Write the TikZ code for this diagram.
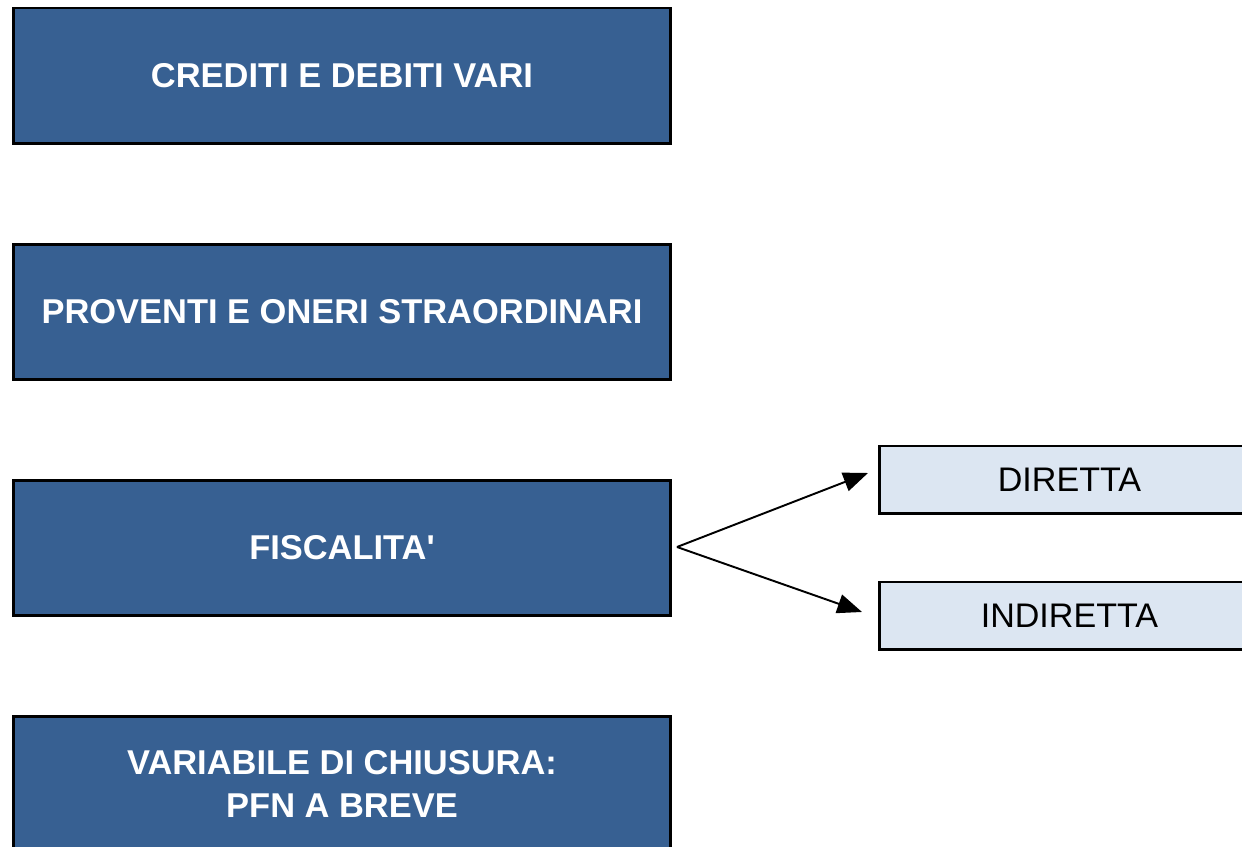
\documentclass[tikz,border=0pt]{standalone}
\usepackage{fontspec}
\setmainfont{Liberation Sans}
\usetikzlibrary{arrows.meta}
\definecolor{darkBlue}{HTML}{376092}
\definecolor{lightBlue}{HTML}{DCE6F2}
\begin{document}
\begin{tikzpicture}[x=0.02cm, y=-0.02cm,
	mainBox/.style={rectangle, fill=darkBlue, draw=black, line width=1.7pt, minimum width=13.16cm, minimum height=2.72cm, text=white, font=\fontsize{19.6}{24}\selectfont\bfseries, align=center},
	subBox/.style={rectangle, fill=lightBlue, draw=black, line width=1.7pt, minimum width=7.6cm, minimum height=1.36cm, font=\fontsize{19.4}{24}\selectfont},
	arrowLine/.style={line width=1.1pt, -{Triangle[length=14pt, width=11pt]}}]
	\useasboundingbox (0,0) rectangle (1242,847);

	\node[mainBox](crediti) at (342,76){CREDITI E DEBITI VARI};
	\node[mainBox](proventi) at (342,312){PROVENTI E ONERI STRAORDINARI};
	\node[mainBox](fiscalita) at (342,548){FISCALITA\textquotesingle};
	\node[mainBox](chiusura) at (342,784){VARIABILE DI CHIUSURA:\\[1pt]PFN A BREVE};

	\node[subBox, anchor=west](diretta) at (878,480){DIRETTA};
	\node[subBox, anchor=west](indiretta) at (878,616){INDIRETTA};

	\coordinate (fork) at (677,547);
	\draw[arrowLine] (fork) -- ([shift={(-10,-7)}]diretta.west);
	\draw[arrowLine] (fork) -- ([shift={(-16,-4)}]indiretta.west);
\end{tikzpicture}
\end{document}
